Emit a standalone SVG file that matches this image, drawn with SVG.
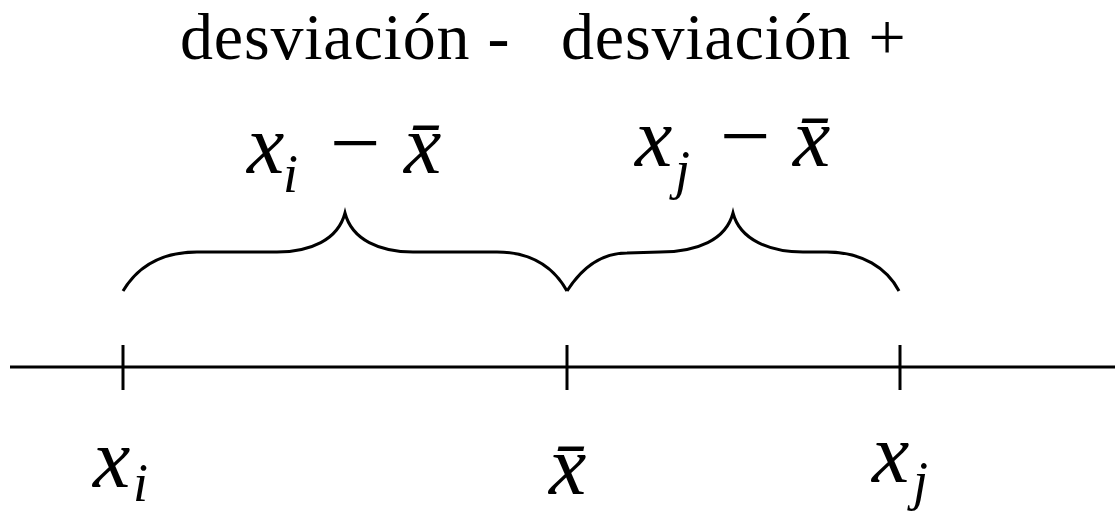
<svg xmlns="http://www.w3.org/2000/svg" width="1115" height="513" viewBox="0 0 1115 513">
<style>
.ln{fill:none;stroke:#000;stroke-width:3;stroke-linecap:butt;stroke-linejoin:miter}
.rm{font-family:"Liberation Serif","Times New Roman",serif;font-size:66px;letter-spacing:0.8px;fill:#000}
.mi{font-family:"Liberation Serif","Times New Roman",serif;font-style:italic;font-size:84px;fill:#000}
.sb{font-size:54px}
.op{font-style:normal;font-size:90px}
</style>
<rect width="1115" height="513" fill="#fff"/>
<g id="titles">
<text id="label-neg" class="rm" x="180" y="59">desviación -</text>
<text id="label-pos" class="rm" x="561" y="59">desviación +</text>
</g>
<g id="expr-neg">
<text class="mi" x="247" y="173">x</text>
<text class="mi sb" x="283" y="192">i</text>
<text class="mi op" x="330" y="173">−</text>
<text class="mi" x="404" y="173">x̄</text>
</g>
<g id="expr-pos">
<text class="mi" x="635" y="166">x</text>
<text class="mi sb" x="675" y="188">j</text>
<text class="mi op" x="720" y="166">−</text>
<text class="mi" x="793" y="166">x̄</text>
</g>
<g id="connectors">
<path id="brace-neg" class="ln" d="M123,291 C138,266 163,252 197,252 L277,252 C310,252 338,240 345,213 C352,240 380,252 413,252 L497,252 C530,252 553,266 567,291"/>
<path id="brace-pos" class="ln" d="M567,291 C583,266 603,253 627,253 L660,252 C697,252 726,240 733,213 C740,240 770,252 803,252 L827,252 C862,252 887,268 899,291"/>
<line id="axis" class="ln" x1="10" y1="367" x2="1115" y2="367"/>
<line class="ln" x1="123" y1="345" x2="123" y2="390"/>
<line class="ln" x1="567" y1="345" x2="567" y2="390"/>
<line class="ln" x1="900" y1="345" x2="900" y2="390"/>
</g>
<g id="node-xi">
<text class="mi" x="93" y="487">x</text>
<text class="mi sb" x="133" y="501">i</text>
</g>
<g id="node-xbar">
<text class="mi" x="549" y="494">x̄</text>
</g>
<g id="node-xj">
<text class="mi" x="872" y="482">x</text>
<text class="mi sb" x="913" y="499">j</text>
</g>
</svg>
